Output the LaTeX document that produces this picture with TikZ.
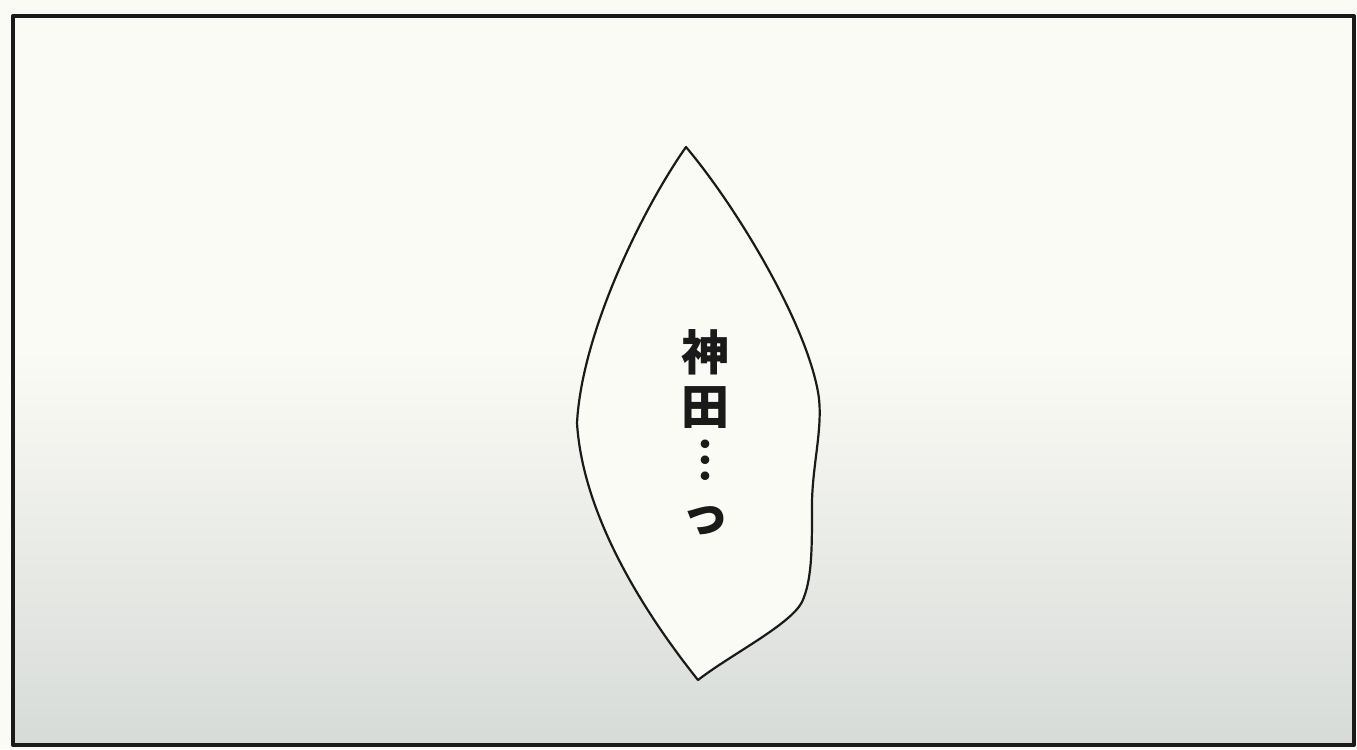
\documentclass[tikz,border=0pt]{standalone}
\usepackage{fontspec}
\usepackage[x11names, svgnames, rgb]{xcolor}
\usetikzlibrary{shapes}
\newfontfamily\jpfont{Noto Sans CJK JP}

\definecolor{papercol}{RGB}{251,251,245}
\definecolor{tonecol}{RGB}{215,219,216}
\definecolor{inkcol}{RGB}{26,26,26}

\begin{document}
\begin{tikzpicture}[x=1bp,y=-1bp,line join=round,
  panel/.style={draw=inkcol,line width=4bp},
  bubble/.style={draw=inkcol,line width=2.2bp,fill=papercol},
  speech/.style={font=\jpfont\bfseries\fontsize{48bp}{54bp}\selectfont,align=center,text=inkcol,inner sep=0pt}]
  \useasboundingbox (0,0) rectangle (1357,749);
%%
  % Paper and tone
  \fill [papercol] (0,0) rectangle (1357,749);
  \shade [top color=papercol,bottom color=tonecol] (13,350) rectangle (1354,745);
  % Panel frame
  \draw [panel] (13,16) rectangle (1354,745);
  % Balloon outline
  \coordinate (top) at (686,147);
  \coordinate (right) at (818,392);
  \coordinate (bottom) at (698,680);
  \coordinate (left) at (577,423);
  \draw [bubble] (top) .. controls (735,205) and (805,320) .. (right)
    .. controls (824,425) and (812,465) .. (812,505)
    .. controls (812,550) and (812,580) .. (802,602)
    .. controls (790,625) and (730,655) .. (bottom)
    .. controls (650,620) and (583,520) .. (left)
    .. controls (582,330) and (645,205) .. (top) -- cycle;
  % Node: speech
  \node [speech] (line) at (705,432) {神\\田\\︙\\っ};
%
\end{tikzpicture}
\end{document}
